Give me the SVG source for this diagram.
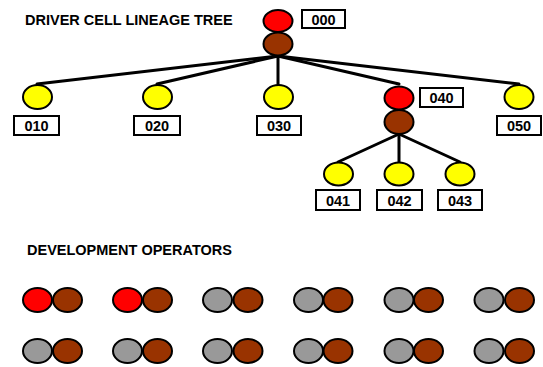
<svg xmlns="http://www.w3.org/2000/svg" width="543" height="367" viewBox="0 0 543 367">
  <style>
    .title { font-family: "Liberation Sans", Arial, sans-serif; font-weight: bold; font-size: 14.5px; fill: #000; }
    .lbl { font-family: "Liberation Sans", Arial, sans-serif; font-weight: bold; font-size: 14.5px; fill: #000; text-anchor: middle; }
    .box { fill: #fff; stroke: #000; stroke-width: 2; }
    .cell { stroke: #000; stroke-width: 2; }
    .red { fill: #FF0000; }
    .brown { fill: #993300; }
    .yellow { fill: #FFFF00; }
    .gray { fill: #999999; }
    .edge { stroke: #000; stroke-width: 3; fill: none; stroke-linecap: round; }
  </style>

  <text class="title" x="25" y="25">DRIVER CELL LINEAGE TREE</text>
  <text class="title" x="27" y="255">DEVELOPMENT OPERATORS</text>

  <!-- lineage edges -->
  <g id="connectors">
    <line class="edge" x1="278" y1="56" x2="37" y2="84"/>
    <line class="edge" x1="278" y1="56" x2="157" y2="84"/>
    <line class="edge" x1="278" y1="56" x2="278" y2="84"/>
    <line class="edge" x1="278" y1="56" x2="399" y2="84"/>
    <line class="edge" x1="278" y1="56" x2="519" y2="84"/>
    <line class="edge" x1="399" y1="134" x2="338" y2="162"/>
    <line class="edge" x1="399" y1="134" x2="399" y2="162"/>
    <line class="edge" x1="399" y1="134" x2="460" y2="162"/>
  </g>

  <!-- root cell -->
  <g id="n000">
    <ellipse class="cell red" cx="278" cy="21" rx="14.5" ry="11"/>
    <ellipse class="cell brown" cx="278" cy="44" rx="14.5" ry="11.5"/>
    <rect class="box" x="302" y="10" width="43" height="18"/>
    <text class="lbl" x="323.5" y="24.5">000</text>
  </g>

  <!-- first generation -->
  <g id="n010">
    <ellipse class="cell yellow" cx="37.5" cy="97" rx="14.5" ry="12"/>
    <rect class="box" x="14" y="116" width="45" height="19"/>
    <text class="lbl" x="36.5" y="131">010</text>
  </g>
  <g id="n020">
    <ellipse class="cell yellow" cx="157.5" cy="97" rx="14.5" ry="12"/>
    <rect class="box" x="134" y="116" width="46" height="19"/>
    <text class="lbl" x="157" y="131">020</text>
  </g>
  <g id="n030">
    <ellipse class="cell yellow" cx="278.5" cy="97" rx="14.5" ry="12"/>
    <rect class="box" x="257" y="116" width="44" height="19"/>
    <text class="lbl" x="279" y="131">030</text>
  </g>
  <g id="n040">
    <ellipse class="cell red" cx="399" cy="98" rx="14.5" ry="11.5"/>
    <ellipse class="cell brown" cx="399" cy="122" rx="14.5" ry="12"/>
    <rect class="box" x="420" y="88" width="43" height="19"/>
    <text class="lbl" x="441.5" y="103">040</text>
  </g>
  <g id="n050">
    <ellipse class="cell yellow" cx="519" cy="97" rx="14.5" ry="12"/>
    <rect class="box" x="497" y="116" width="44" height="19"/>
    <text class="lbl" x="519" y="131">050</text>
  </g>

  <!-- second generation -->
  <g id="n041">
    <ellipse class="cell yellow" cx="338.5" cy="174" rx="14.5" ry="11.5"/>
    <rect class="box" x="316" y="190" width="44" height="20"/>
    <text class="lbl" x="338" y="205.5">041</text>
  </g>
  <g id="n042">
    <ellipse class="cell yellow" cx="399" cy="174" rx="14.5" ry="11.5"/>
    <rect class="box" x="377" y="190" width="45" height="20"/>
    <text class="lbl" x="399.5" y="205.5">042</text>
  </g>
  <g id="n043">
    <ellipse class="cell yellow" cx="460" cy="174" rx="14.5" ry="11.5"/>
    <rect class="box" x="438" y="190" width="44" height="20"/>
    <text class="lbl" x="460" y="205.5">043</text>
  </g>

  <!-- development operators -->
  <g id="op1"><ellipse class="cell red" cx="37.5" cy="300" rx="14.5" ry="12"/><ellipse class="cell brown" cx="67.5" cy="300" rx="14.5" ry="12"/></g>
  <g id="op2"><ellipse class="cell red" cx="127.5" cy="300" rx="14.5" ry="12"/><ellipse class="cell brown" cx="157.5" cy="300" rx="14.5" ry="12"/></g>
  <g id="op3"><ellipse class="cell gray" cx="217.5" cy="300" rx="14.5" ry="12"/><ellipse class="cell brown" cx="248" cy="300" rx="14.5" ry="12"/></g>
  <g id="op4"><ellipse class="cell gray" cx="308.5" cy="300" rx="14.5" ry="12"/><ellipse class="cell brown" cx="338" cy="300" rx="14.5" ry="12"/></g>
  <g id="op5"><ellipse class="cell gray" cx="399" cy="300" rx="14.5" ry="12"/><ellipse class="cell brown" cx="428.5" cy="300" rx="14.5" ry="12"/></g>
  <g id="op6"><ellipse class="cell gray" cx="489" cy="300" rx="14.5" ry="12"/><ellipse class="cell brown" cx="519.5" cy="300" rx="14.5" ry="12"/></g>

  <g id="op7"><ellipse class="cell gray" cx="37.5" cy="351" rx="14.5" ry="12"/><ellipse class="cell brown" cx="67.5" cy="351" rx="14.5" ry="12"/></g>
  <g id="op8"><ellipse class="cell gray" cx="127.5" cy="351" rx="14.5" ry="12"/><ellipse class="cell brown" cx="157.5" cy="351" rx="14.5" ry="12"/></g>
  <g id="op9"><ellipse class="cell gray" cx="217.5" cy="351" rx="14.5" ry="12"/><ellipse class="cell brown" cx="248" cy="351" rx="14.5" ry="12"/></g>
  <g id="op10"><ellipse class="cell gray" cx="308.5" cy="351" rx="14.5" ry="12"/><ellipse class="cell brown" cx="338" cy="351" rx="14.5" ry="12"/></g>
  <g id="op11"><ellipse class="cell gray" cx="399" cy="351" rx="14.5" ry="12"/><ellipse class="cell brown" cx="428.5" cy="351" rx="14.5" ry="12"/></g>
  <g id="op12"><ellipse class="cell gray" cx="489" cy="351" rx="14.5" ry="12"/><ellipse class="cell brown" cx="519.5" cy="351" rx="14.5" ry="12"/></g>
</svg>
